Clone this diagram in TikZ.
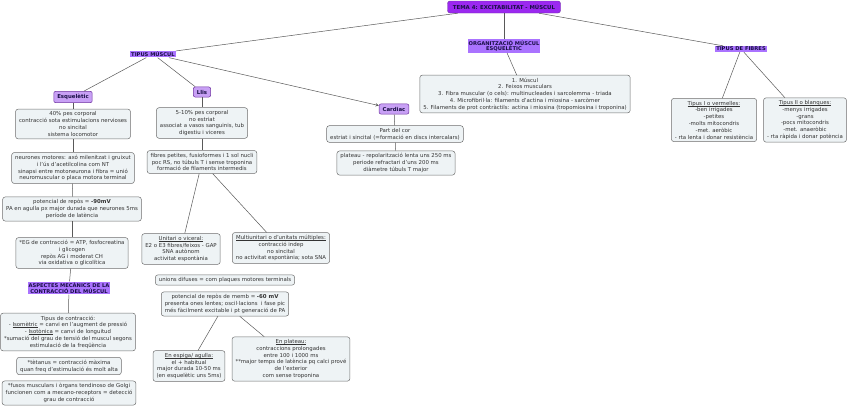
\documentclass[tikz,border=0pt]{standalone}
\usepackage{fontspec}
\setmainfont{DejaVu Sans}
\usetikzlibrary{arrows,positioning}
\definecolor{titlepurple}{RGB}{155,40,240}
\definecolor{headpurple}{RGB}{170,115,255}
\definecolor{catpurple}{RGB}{200,160,245}
\definecolor{catborder}{RGB}{110,50,160}
\definecolor{boxfill}{RGB}{238,243,245}
\definecolor{boxborder}{RGB}{110,110,110}
\definecolor{inkdark}{RGB}{25,15,70}
\newcommand{\undl}[1]{\setbox0\hbox{#1}\rlap{\rule[-0.8pt]{\wd0}{0.3pt}}\box0\relax}

\begin{document}
\begin{tikzpicture}[x=1pt, y=-1pt,
    every node/.style={font=\fontsize{5.4}{6.8}\selectfont, align=center, text=black!80},
    cbox/.style={draw=boxborder, fill=boxfill, rounded corners=2.5pt, inner xsep=3.5pt, inner ysep=2.5pt, line width=0.5pt},
    head/.style={fill=headpurple, text=inkdark, font=\fontsize{5.2}{5.8}\selectfont\bfseries, inner sep=1pt},
    cat/.style={draw=catborder, fill=catpurple, text=inkdark, rounded corners=2pt, font=\fontsize{5.4}{6}\selectfont\bfseries, inner xsep=3.5pt, inner ysep=3pt, line width=0.5pt},
    link/.style={draw=black!65, line width=0.5pt},
    arrow/.style={link, ->, >=stealth}
]
\useasboundingbox (0,0) rectangle (848,407);

% Title
\node[draw=catborder, fill=titlepurple, text=inkdark, rounded corners=2.5pt, font=\fontsize{5.4}{6}\selectfont\bfseries, minimum width=113pt, minimum height=12pt] (title) at (504,7) {TEMA 4: EXCITABILITAT - MÚSCUL};

% Main branches
\node[head] (tipus) at (153,54) {TIPUS MÚSCUL};
\node[head] (organ) at (504,46) {ORGANITZACIÓ MÚSCUL\\ESQUELÈTIC};
\node[head] (fibres) at (741,49) {TIPUS DE FIBRES};

% Muscle types
\node[cat] (esq) at (73,97) {Esquelètic};
\node[cat] (llis) at (202,92) {Llis};
\node[cat] (card) at (394,109) {Cardiac};

% Skeletal column
\node[cbox] (esq1) at (73,124) {40\% pes corporal\\contracció sota estimulacions nervioses\\no sincital\\sistema locomotor};
\node[cbox] (esq2) at (73,168) {neurones motores: axó milenitzat i gruixut\\i l'ús d'acetilcolina com NT\\sinapsi entre motoneurona i fibra = unió\\neuromuscular o placa motora terminal};
\node[cbox] (esq3) at (72,209) {potencial de repòs = \textbf{-90mV}\\PA en agulla px major durada que neurones 5ms\\període de latència};
\node[cbox] (esq4) at (72,253) {*EG de contracció = ATP, fosfocreatina\\i glicogen\\repòs AG i moderat CH\\via oxidativa o glicolítica};
\node[head] (mec) at (69,288) {ASPECTES MECÀNICS DE LA\\CONTRACCIÓ DEL MÚSCUL};
\node[cbox] (esq5) at (68,332) {Tipus de contracció:\\- \undl{Isomètric} = canvi en l'augment de pressió\\- \undl{Isotònica} = canvi de longuitud\\*sumació del grau de tensió del muscul segons\\estimulació de la freqüència};
\node[cbox] (esq6) at (69,366) {*tètanus = contracció màxima\\quan freq d'estimulació és molt alta};
\node[cbox] (esq7) at (69,393) {*fusos musculars i òrgans tendinoso de Golgi\\funcionen com a mecano-receptors = detecció\\grau de contracció};

% Smooth column
\node[cbox] (llis1) at (202,123) {5-10\% pes corporal\\no estriat\\associat a vasos sanguinis, tub\\digestiu i viceres};
\node[cbox] (llis2) at (202,162) {fibres petites, fusioformes i 1 sol nucli\\poc RS, no túbuls T i sense troponina\\formació de filaments intermedis};
\node[cbox] (unit) at (181,249) {\undl{Unitari o viceral:}\\E2 o E3 fibres/feixos - GAP\\SNA autònom\\activitat espontània};
\node[cbox] (multi) at (281,248) {\undl{Multiunitari o d'unitats múltiples:}\\contracció indep\\no sincital\\no activitat espontània; sota SNA};
\node[cbox] (unions) at (225,280) {unions difuses = com plaques motores terminals};
\node[cbox] (memb) at (225,304) {potencial de repòs de memb = \textbf{-60 mV}\\presenta ones lentes; oscil·lacions\ \ i fase pic\\més fàcilment excitable i pt generació de PA};
\node[cbox] (espiga) at (189,366) {\undl{En espiga/ agulla:}\\el + habitual\\major durada 10-50 ms\\(en esquelètic uns 5ms)};
\node[cbox] (plat) at (291,359) {\undl{En plateau:}\\contraccions prolongades\\entre 100 i 1000 ms\\**major temps de latència pq calci prové\\de l'exterior\\com sense troponina};

% Cardiac column
\node[cbox] (card1) at (395,134) {Part del cor\\estriat i sincital (=formació en discs intercalars)};
\node[cbox] (card2) at (396,163) {plateau - repolarització lenta uns 250 ms\\periode refractari d'uns 200 ms\\diàmetre túbuls T major};

% Organisation
\node[cbox] (levels) at (525,94) {1. Múscul\\2. Feixos musculars\\3. Fibra muscular (o cels): multinucleades i sarcolemma - triada\\4. Microfibril·la: filaments d'actina i miosina - sarcòmer\\5. Filaments de prot contràctils: actina i miosina (tropomiosina i troponina)};

% Fibre types
\node[cbox] (tipI) at (714,120) {\undl{Tipus I o vermelles:}\\-ben irrigades\\-petites\\-molts mitocondris\\-met. aeròbic\\- rta lenta i donar resistència};
\node[cbox] (tipII) at (805,120) {\undl{Tipus II o blanques:}\\-menys irrigades\\-grans\\-pocs mitocondris\\-met. anaeròbic\\- rta ràpida i donar potència};

% Links
\draw[link] (title) -- (tipus);
\draw[link] (title) -- (organ);
\draw[link] (title) -- (fibres);
\draw[link] (tipus) -- (esq);
\draw[link] (tipus) -- (llis);
\draw[arrow] (tipus) -- (card);
\draw[link] (esq) -- (esq1);
\draw[link] (esq1) -- (esq2);
\draw[link] (esq2) -- (esq3);
\draw[link] (esq3) -- (esq4);
\draw[link] (esq4) -- (mec);
\draw[link] (mec) -- (esq5);
\draw[link] (llis) -- (llis1);
\draw[link] (llis1) -- (llis2);
\draw[link] (llis2) -- (unit);
\draw[link] (llis2) -- (multi);
\draw[link] (memb) -- (espiga);
\draw[link] (memb) -- (plat);
\draw[link] (card) -- (card1);
\draw[link] (card1) -- (card2);
\draw[link] (organ) -- (levels);
\draw[link] (fibres) -- (tipI);
\draw[link] (fibres) -- (tipII);

\end{tikzpicture}
\end{document}
